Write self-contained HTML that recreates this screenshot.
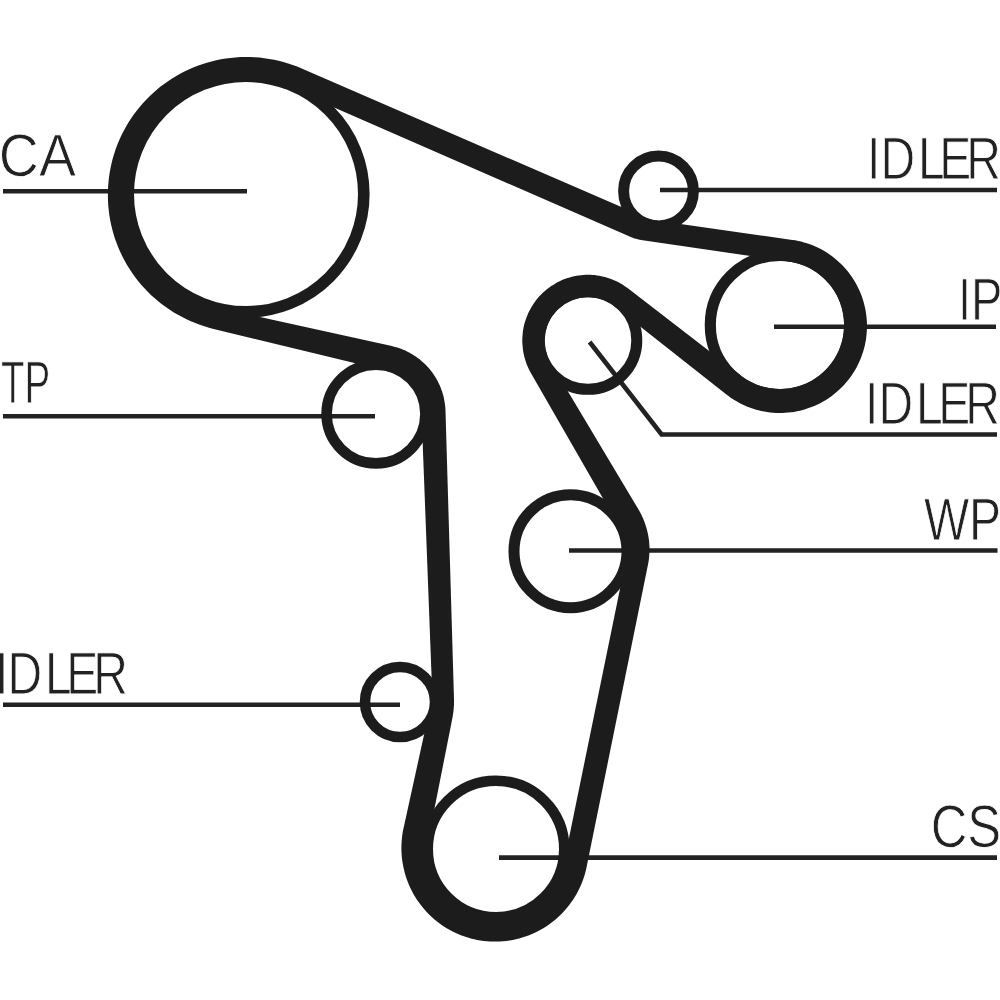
<!DOCTYPE html>
<html lang="en">
<head>
<meta charset="utf-8">
<title>Timing belt routing diagram</title>
<style>
html,body{margin:0;padding:0;background:#fff;}
body{width:1000px;height:1000px;overflow:hidden;}
svg{display:block;}
text{font-family:"Liberation Sans",sans-serif;font-size:60px;fill:#222;stroke:#fff;stroke-width:0.9px;paint-order:fill stroke;text-rendering:geometricPrecision;}
</style>
</head>
<body>
<svg width="1000" height="1000" viewBox="0 0 1000 1000">
<defs><filter id="soft" x="0" y="0" width="1000" height="1000" filterUnits="userSpaceOnUse"><feGaussianBlur stdDeviation="0.6"/></filter></defs>
<rect width="1000" height="1000" fill="#fff"/>
<g filter="url(#soft)">
<path d="M3 191.3 H247" fill="none" stroke="#222" stroke-width="4.6" stroke-linejoin="miter"/>
<path d="M3 416.2 H375" fill="none" stroke="#222" stroke-width="4.6" stroke-linejoin="miter"/>
<path d="M3 704.8 H400" fill="none" stroke="#222" stroke-width="4.6" stroke-linejoin="miter"/>
<path d="M660 190 H997" fill="none" stroke="#222" stroke-width="4.6" stroke-linejoin="miter"/>
<path d="M774 326.8 H996" fill="none" stroke="#222" stroke-width="4.6" stroke-linejoin="miter"/>
<path d="M589.6 342 L661.6 434.5 H997" fill="none" stroke="#222" stroke-width="4.6" stroke-linejoin="miter"/>
<path d="M569 550.5 H997.5" fill="none" stroke="#222" stroke-width="4.6" stroke-linejoin="miter"/>
<path d="M499 857.6 H997" fill="none" stroke="#222" stroke-width="4.6" stroke-linejoin="miter"/>
<circle cx="246.0" cy="194.0" r="117.8" fill="none" stroke="#1c1c1c" stroke-width="11.6"/>
<circle cx="376.0" cy="414.0" r="49.4" fill="none" stroke="#1c1c1c" stroke-width="10.6"/>
<circle cx="400.0" cy="702.0" r="35.0" fill="none" stroke="#1c1c1c" stroke-width="10.5"/>
<circle cx="496.0" cy="849.0" r="68.3" fill="none" stroke="#1c1c1c" stroke-width="10.6"/>
<circle cx="570.5" cy="551.2" r="56.5" fill="none" stroke="#1c1c1c" stroke-width="11.0"/>
<circle cx="588.0" cy="340.5" r="48.8" fill="none" stroke="#1c1c1c" stroke-width="11.0"/>
<circle cx="780.0" cy="325.0" r="69.7" fill="none" stroke="#1c1c1c" stroke-width="11.2"/>
<circle cx="658.5" cy="191.0" r="34.9" fill="none" stroke="#1c1c1c" stroke-width="11.0"/>
<path fill="#1c1c1c" fill-rule="evenodd" d="M301.7 68.5 L297.2 66.6 L292.7 64.9 L288.1 63.4 L283.4 62.0 L278.7 60.8 L274.0 59.8 L269.2 58.9 L264.4 58.2 L259.6 57.6 L254.8 57.2 L249.9 57.0 L245.1 57.0 L240.2 57.1 L235.4 57.4 L230.6 57.9 L225.8 58.5 L221.0 59.3 L216.2 60.3 L211.5 61.4 L206.9 62.7 L202.2 64.2 L197.7 65.8 L193.2 67.6 L188.7 69.5 L184.4 71.6 L180.1 73.8 L175.9 76.2 L171.7 78.7 L167.7 81.4 L163.8 84.2 L159.9 87.1 L156.2 90.2 L152.6 93.4 L149.1 96.7 L145.7 100.2 L142.4 103.7 L139.3 107.4 L136.3 111.2 L133.4 115.0 L130.7 119.0 L128.1 123.1 L125.7 127.2 L123.4 131.5 L121.2 135.8 L119.2 140.2 L117.4 144.6 L115.7 149.1 L114.2 153.7 L112.8 158.3 L111.6 163.0 L110.6 167.7 L109.7 172.4 L109.0 177.2 L108.5 181.9 L108.1 186.7 L107.9 191.5 L107.9 196.3 L108.0 201.1 L108.3 205.9 L108.8 210.7 L109.4 215.5 L110.2 220.2 L111.2 224.9 L112.3 229.6 L113.6 234.2 L115.0 238.8 L116.7 243.3 L118.4 247.8 L120.4 252.2 L122.4 256.5 L124.7 260.8 L127.0 265.0 L129.6 269.1 L132.2 273.1 L135.0 277.0 L137.9 280.8 L141.0 284.5 L144.2 288.1 L147.5 291.5 L150.9 294.9 L154.5 298.1 L158.2 301.3 L161.9 304.2 L165.8 307.1 L169.8 309.8 L173.8 312.4 L178.0 314.8 L182.2 317.1 L186.5 319.3 L190.9 321.3 L195.3 323.1 L199.8 324.8 L204.4 326.3 L209.0 327.7 L213.6 328.9 L386.5 370.7 L387.9 371.1 L389.4 371.6 L390.8 372.0 L392.3 372.5 L393.7 373.1 L395.1 373.7 L396.4 374.4 L397.8 375.1 L399.1 375.8 L400.4 376.6 L401.7 377.4 L402.9 378.3 L404.2 379.2 L405.4 380.2 L406.5 381.1 L407.7 382.2 L408.7 383.3 L409.8 384.4 L410.8 385.5 L411.8 386.7 L412.8 387.9 L413.7 389.1 L414.5 390.4 L415.3 391.7 L416.1 393.1 L416.8 394.4 L417.5 395.8 L418.1 397.2 L418.7 398.7 L419.2 400.1 L419.7 401.6 L420.1 403.1 L420.5 404.6 L420.8 406.1 L421.0 407.6 L421.2 409.2 L421.4 410.7 L421.5 412.3 L432.5 700.8 L432.4 701.8 L432.2 702.8 L431.8 703.8 L431.4 704.8 L430.9 705.8 L430.5 706.7 L430.1 707.6 L429.8 708.5 L403.6 827.9 L402.9 831.1 L402.4 834.3 L402.0 837.5 L401.7 840.8 L401.5 844.0 L401.4 847.3 L401.4 850.5 L401.6 853.7 L401.8 857.0 L402.2 860.2 L402.7 863.4 L403.3 866.6 L404.0 869.8 L404.8 872.9 L405.7 876.0 L406.7 879.1 L407.9 882.2 L409.1 885.2 L410.4 888.1 L411.9 891.0 L413.4 893.9 L415.1 896.7 L416.8 899.4 L418.6 902.1 L420.6 904.7 L422.6 907.3 L424.7 909.8 L426.9 912.2 L429.1 914.5 L431.5 916.7 L433.9 918.9 L436.4 921.0 L439.0 923.0 L441.6 924.9 L444.3 926.7 L447.1 928.4 L449.9 930.0 L452.7 931.5 L455.7 932.9 L458.6 934.2 L461.6 935.5 L464.7 936.6 L467.8 937.6 L470.9 938.4 L474.1 939.2 L477.2 939.9 L480.4 940.5 L483.7 940.9 L486.9 941.2 L490.1 941.5 L493.4 941.6 L496.6 941.6 L499.9 941.5 L503.1 941.2 L506.3 940.9 L509.6 940.5 L512.8 939.9 L515.9 939.2 L519.1 938.4 L522.2 937.6 L525.3 936.6 L528.4 935.5 L531.4 934.2 L534.3 932.9 L537.3 931.5 L540.1 930.0 L542.9 928.4 L545.7 926.7 L548.4 924.9 L551.0 923.0 L553.6 921.0 L556.1 918.9 L558.5 916.7 L560.9 914.5 L563.1 912.2 L565.3 909.8 L567.4 907.3 L569.4 904.7 L571.4 902.1 L573.2 899.4 L574.9 896.7 L576.6 893.9 L578.1 891.0 L579.6 888.1 L580.9 885.2 L582.1 882.2 L583.3 879.1 L584.3 876.0 L585.2 872.9 L586.0 869.8 L586.7 866.6 L647.9 565.0 L648.4 562.4 L648.8 559.9 L649.1 557.3 L649.3 554.6 L649.5 552.0 L649.5 549.4 L649.5 546.8 L649.3 544.2 L649.1 541.6 L648.8 539.0 L648.4 536.4 L647.9 533.8 L647.3 531.3 L646.7 528.7 L645.9 526.2 L645.1 523.7 L644.2 521.3 L643.2 518.8 L642.2 516.5 L641.0 514.1 L639.8 511.8 L638.5 509.5 L550.8 362.7 L550.1 361.4 L549.4 360.1 L548.7 358.7 L548.1 357.3 L547.5 355.9 L547.0 354.5 L546.6 353.1 L546.2 351.7 L545.8 350.2 L545.5 348.7 L545.2 347.2 L545.0 345.8 L544.9 344.3 L544.8 342.8 L544.7 341.3 L544.7 339.8 L544.8 338.3 L544.9 336.8 L545.0 335.3 L545.2 333.8 L545.5 332.3 L545.8 330.8 L546.2 329.4 L546.6 327.9 L547.0 326.5 L547.5 325.1 L548.1 323.7 L548.7 322.3 L549.4 321.0 L550.1 319.6 L550.8 318.3 L551.6 317.0 L552.4 315.8 L553.3 314.6 L554.2 313.4 L555.2 312.2 L556.2 311.1 L557.2 310.0 L558.3 309.0 L559.4 308.0 L560.6 307.0 L561.8 306.1 L563.0 305.2 L564.2 304.3 L565.5 303.5 L566.8 302.8 L568.1 302.0 L569.4 301.4 L570.8 300.8 L572.2 300.2 L573.6 299.7 L575.0 299.2 L576.5 298.8 L577.9 298.4 L579.4 298.1 L580.9 297.8 L582.4 297.6 L583.9 297.4 L585.4 297.3 L586.9 297.2 L588.4 297.2 L589.9 297.2 L591.4 297.3 L592.9 297.5 L594.4 297.7 L595.8 297.9 L597.3 298.2 L598.8 298.6 L600.2 299.0 L601.7 299.4 L603.1 299.9 L604.5 300.5 L605.9 301.1 L607.2 301.7 L608.5 302.4 L609.9 303.1 L611.1 303.9 L612.4 304.7 L613.6 305.6 L614.8 306.5 L726.1 394.3 L728.5 396.1 L731.0 397.9 L733.5 399.5 L736.1 401.1 L738.7 402.6 L741.4 403.9 L744.1 405.2 L746.8 406.4 L749.6 407.5 L752.5 408.5 L755.3 409.4 L758.2 410.2 L761.2 410.9 L764.1 411.5 L767.1 412.0 L770.1 412.4 L773.1 412.7 L776.1 412.9 L779.1 413.0 L782.1 413.0 L785.1 412.8 L788.1 412.6 L791.1 412.3 L794.1 411.9 L797.0 411.3 L800.0 410.7 L802.9 409.9 L805.8 409.1 L808.6 408.1 L811.5 407.1 L814.3 406.0 L817.0 404.7 L819.7 403.4 L822.4 402.0 L825.0 400.5 L827.5 398.9 L830.0 397.2 L832.4 395.4 L834.8 393.6 L837.1 391.6 L839.4 389.6 L841.5 387.5 L843.6 385.4 L845.6 383.1 L847.6 380.8 L849.4 378.4 L851.2 376.0 L852.9 373.5 L854.5 371.0 L856.0 368.4 L857.4 365.7 L858.7 363.0 L860.0 360.3 L861.1 357.5 L862.1 354.6 L863.1 351.8 L863.9 348.9 L864.7 346.0 L865.3 343.0 L865.9 340.1 L866.3 337.1 L866.6 334.1 L866.8 331.1 L867.0 328.1 L867.0 325.1 L866.9 322.1 L866.7 319.1 L866.4 316.1 L866.0 313.1 L865.5 310.1 L864.9 307.2 L864.2 304.2 L863.4 301.3 L862.5 298.5 L861.5 295.6 L860.4 292.8 L859.2 290.1 L857.9 287.4 L856.6 284.7 L855.1 282.1 L853.5 279.5 L851.9 277.0 L850.1 274.5 L848.3 272.1 L846.4 269.8 L844.4 267.5 L842.4 265.3 L840.2 263.2 L838.0 261.2 L835.7 259.2 L833.4 257.3 L831.0 255.5 L828.5 253.8 L826.0 252.1 L823.4 250.6 L820.8 249.1 L818.1 247.8 L815.4 246.5 L812.6 245.3 L809.8 244.3 L806.9 243.3 L804.0 242.4 L801.1 241.6 L798.2 240.9 L795.3 240.3 L792.3 239.9 L654.3 220.2 L653.4 220.0 L652.4 219.9 L651.4 219.6 L650.5 219.4 L649.5 219.1 L648.6 218.8 L647.7 218.4 L646.8 218.1 Z M291.8 89.1 L288.1 87.5 L284.4 86.1 L280.6 84.9 L276.8 83.7 L273.0 82.7 L269.1 81.8 L265.2 81.1 L261.2 80.5 L257.3 80.0 L253.3 79.7 L249.4 79.5 L245.4 79.4 L241.4 79.5 L237.4 79.7 L233.4 80.0 L229.5 80.5 L225.6 81.1 L221.6 81.9 L217.8 82.8 L213.9 83.8 L210.1 85.0 L206.3 86.2 L202.6 87.7 L198.9 89.2 L195.3 90.9 L191.7 92.7 L188.2 94.6 L184.8 96.6 L181.4 98.8 L178.1 101.1 L174.9 103.5 L171.8 106.0 L168.8 108.6 L165.8 111.3 L163.0 114.1 L160.2 117.0 L157.6 120.0 L155.0 123.1 L152.6 126.3 L150.2 129.5 L148.0 132.9 L145.9 136.3 L144.0 139.8 L142.1 143.3 L140.4 147.0 L138.8 150.7 L137.3 154.4 L135.9 158.2 L134.7 162.0 L133.6 165.9 L132.7 169.8 L131.9 173.7 L131.2 177.7 L130.7 181.7 L130.3 185.7 L130.0 189.7 L129.9 193.8 L129.9 197.8 L130.1 201.8 L130.4 205.9 L130.8 209.9 L131.4 213.9 L132.2 217.8 L133.0 221.8 L134.0 225.7 L135.2 229.6 L136.4 233.4 L137.8 237.2 L139.4 241.0 L141.0 244.7 L142.8 248.3 L144.8 251.9 L146.8 255.3 L149.0 258.8 L151.3 262.1 L153.7 265.4 L156.2 268.6 L158.8 271.7 L161.5 274.7 L164.4 277.6 L167.3 280.4 L170.3 283.1 L173.5 285.6 L176.7 288.1 L180.0 290.5 L183.4 292.7 L186.8 294.9 L190.4 296.9 L194.0 298.7 L197.6 300.5 L201.4 302.1 L205.1 303.6 L209.0 305.0 L212.8 306.2 L216.8 307.3 L220.7 308.2 L391.8 346.1 L394.1 346.7 L396.4 347.3 L398.7 348.0 L401.0 348.8 L403.2 349.7 L405.4 350.6 L407.5 351.7 L409.6 352.8 L411.7 353.9 L413.7 355.2 L415.7 356.5 L417.7 357.9 L419.6 359.3 L421.4 360.9 L423.2 362.4 L424.9 364.1 L426.6 365.8 L428.2 367.5 L429.8 369.3 L431.3 371.2 L432.7 373.1 L434.0 375.1 L435.3 377.1 L436.5 379.1 L437.7 381.2 L438.8 383.4 L439.8 385.5 L440.7 387.7 L441.5 390.0 L442.3 392.2 L443.0 394.5 L443.6 396.8 L444.1 399.2 L444.5 401.5 L444.9 403.9 L445.2 406.2 L445.4 408.6 L445.5 411.0 L454.0 699.6 L454.0 702.2 L454.0 704.8 L453.8 707.3 L453.6 709.9 L453.3 712.5 L452.9 715.0 L452.5 717.5 L429.1 835.8 L428.7 838.1 L428.3 840.5 L428.1 842.8 L427.9 845.2 L427.8 847.6 L427.8 849.9 L427.9 852.3 L428.0 854.7 L428.2 857.1 L428.6 859.4 L429.0 861.8 L429.4 864.1 L430.0 866.4 L430.6 868.7 L431.3 870.9 L432.1 873.2 L433.0 875.4 L434.0 877.6 L435.0 879.7 L436.1 881.8 L437.2 883.9 L438.5 886.0 L439.8 887.9 L441.2 889.9 L442.6 891.8 L444.1 893.6 L445.7 895.4 L447.3 897.1 L449.0 898.8 L450.8 900.4 L452.6 902.0 L454.5 903.5 L456.4 904.9 L458.3 906.3 L460.3 907.6 L462.4 908.8 L464.5 909.9 L466.6 911.0 L468.8 912.0 L471.0 912.9 L473.2 913.8 L475.5 914.6 L477.8 915.3 L480.1 915.9 L482.4 916.4 L484.8 916.8 L487.2 917.2 L489.5 917.5 L491.9 917.7 L494.3 917.8 L496.7 917.9 L499.1 917.8 L501.5 917.7 L503.9 917.5 L506.3 917.2 L508.7 916.8 L511.0 916.3 L513.4 915.8 L515.7 915.1 L518.0 914.4 L520.2 913.6 L522.5 912.8 L524.7 911.8 L526.9 910.8 L529.0 909.7 L531.1 908.5 L533.2 907.3 L535.2 906.0 L537.2 904.6 L539.1 903.1 L540.9 901.6 L542.8 900.0 L544.5 898.3 L546.2 896.6 L547.8 894.9 L549.4 893.0 L550.9 891.2 L552.4 889.2 L553.7 887.2 L555.0 885.2 L556.3 883.1 L557.4 881.0 L558.5 878.9 L559.5 876.7 L560.5 874.4 L561.3 872.2 L562.1 869.9 L562.8 867.6 L563.4 865.2 L563.9 862.9 L625.4 562.4 L625.7 560.5 L626.0 558.6 L626.1 556.7 L626.2 554.8 L626.3 552.8 L626.2 550.9 L626.1 549.0 L625.9 547.1 L625.6 545.2 L625.2 543.3 L624.8 541.5 L624.4 539.6 L623.8 537.8 L623.2 536.0 L622.6 534.2 L621.9 532.5 L621.2 530.7 L620.4 529.0 L619.5 527.3 L618.7 525.7 L617.7 524.0 L531.0 373.2 L529.9 371.2 L528.9 369.2 L527.9 367.1 L527.0 365.0 L526.2 362.9 L525.5 360.7 L524.8 358.5 L524.2 356.3 L523.7 354.1 L523.3 351.9 L522.9 349.6 L522.7 347.3 L522.5 345.0 L522.3 342.8 L522.3 340.5 L522.3 338.2 L522.5 335.9 L522.7 333.6 L522.9 331.3 L523.3 329.1 L523.7 326.8 L524.2 324.6 L524.8 322.4 L525.5 320.2 L526.3 318.1 L527.1 315.9 L528.0 313.8 L528.9 311.7 L530.0 309.7 L531.1 307.7 L532.3 305.7 L533.5 303.8 L534.8 301.9 L536.2 300.1 L537.6 298.3 L539.1 296.6 L540.7 294.9 L542.3 293.3 L544.0 291.7 L545.7 290.2 L547.5 288.8 L549.3 287.4 L551.2 286.1 L553.1 284.9 L555.0 283.7 L557.0 282.6 L559.1 281.5 L561.1 280.5 L563.2 279.6 L565.4 278.8 L567.5 278.1 L569.7 277.4 L571.9 276.8 L574.2 276.3 L576.4 275.8 L578.7 275.5 L580.9 275.2 L583.2 275.0 L585.5 274.8 L587.8 274.8 L590.1 274.8 L592.3 274.9 L594.6 275.1 L596.9 275.4 L599.2 275.8 L601.4 276.2 L603.6 276.7 L605.8 277.3 L608.0 277.9 L610.2 278.7 L612.3 279.5 L614.5 280.4 L616.5 281.3 L618.6 282.3 L620.6 283.4 L622.5 284.6 L624.5 285.9 L626.4 287.2 L628.2 288.5 L740.9 375.6 L742.6 377.0 L744.5 378.2 L746.3 379.4 L748.3 380.6 L750.2 381.6 L752.2 382.6 L754.2 383.6 L756.3 384.4 L758.4 385.2 L760.5 385.9 L762.6 386.6 L764.8 387.2 L766.9 387.6 L769.1 388.1 L771.3 388.4 L773.5 388.7 L775.7 388.9 L778.0 389.0 L780.2 389.0 L782.4 389.0 L784.6 388.8 L786.9 388.6 L789.1 388.4 L791.3 388.0 L793.5 387.6 L795.6 387.1 L797.8 386.5 L799.9 385.8 L802.0 385.1 L804.1 384.3 L806.1 383.4 L808.1 382.5 L810.1 381.5 L812.1 380.4 L814.0 379.2 L815.8 378.0 L817.7 376.7 L819.4 375.4 L821.2 374.0 L822.9 372.5 L824.5 371.0 L826.1 369.4 L827.6 367.8 L829.0 366.1 L830.4 364.4 L831.8 362.6 L833.1 360.8 L834.3 358.9 L835.4 357.0 L836.5 355.1 L837.5 353.1 L838.5 351.1 L839.3 349.0 L840.1 346.9 L840.8 344.8 L841.5 342.7 L842.1 340.6 L842.6 338.4 L843.0 336.2 L843.4 334.0 L843.6 331.8 L843.8 329.6 L844.0 327.3 L844.0 325.1 L844.0 322.9 L843.9 320.7 L843.7 318.5 L843.4 316.2 L843.1 314.0 L842.6 311.9 L842.1 309.7 L841.6 307.5 L840.9 305.4 L840.2 303.3 L839.4 301.2 L838.5 299.2 L837.6 297.1 L836.6 295.1 L835.5 293.2 L834.4 291.3 L833.2 289.4 L831.9 287.6 L830.6 285.8 L829.2 284.1 L827.7 282.4 L826.2 280.7 L824.7 279.2 L823.0 277.6 L821.4 276.2 L819.6 274.8 L817.9 273.4 L816.0 272.1 L814.2 270.9 L812.3 269.7 L810.3 268.6 L808.4 267.6 L806.4 266.7 L804.3 265.8 L802.2 265.0 L800.1 264.2 L798.0 263.6 L795.9 263.0 L793.7 262.5 L791.5 262.0 L789.3 261.7 L641.0 239.9 L639.7 239.7 L638.4 239.4 L637.1 239.1 L635.8 238.8 L634.5 238.4 L633.3 237.9 L632.0 237.5 L630.8 237.0 Z"/>
<text x="-1.2" y="176.0" textLength="77.2" lengthAdjust="spacingAndGlyphs">CA</text>
<text x="0.9" y="403.0" textLength="49.3" lengthAdjust="spacingAndGlyphs">TP</text>
<text transform="translate(-5.00 693.50) scale(0.800 1)" x="0.00 15.62 62.50 89.00 122.75" y="0">IDLER</text>
<text transform="translate(868.00 179.00) scale(0.800 1)" x="-1.25 15.62 62.50 89.00 122.75" y="0">IDLER</text>
<text x="958.0" y="320.0" textLength="44.4" lengthAdjust="spacingAndGlyphs">IP</text>
<text transform="translate(866.60 424.00) scale(0.800 1)" x="-2.00 14.88 61.75 89.50 123.25" y="0">IDLER</text>
<text x="923.9" y="540.0" textLength="77.2" lengthAdjust="spacingAndGlyphs">WP</text>
<text x="930.7" y="847.0" textLength="70.5" lengthAdjust="spacingAndGlyphs">CS</text>
</g>
</svg>
</body>
</html>
